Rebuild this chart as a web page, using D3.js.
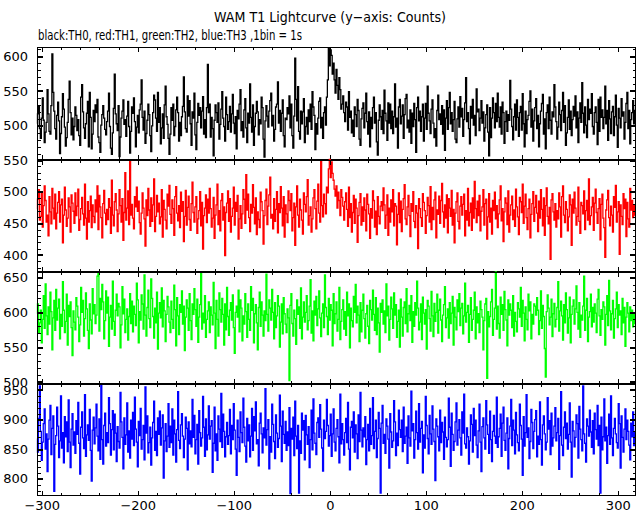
<!DOCTYPE html>
<html><head><meta charset="utf-8">
<script src="https://cdn.jsdelivr.net/npm/d3@7"></script>
<style>body{margin:0;background:#fff}svg{display:block}</style>
</head><body><svg id="c" width="643" height="515"></svg>
<script>
// time of first bin (s); 1 bin = 1 s
const tStart = -305;
const binSize = 1;
// TH0 (black)
const th0 = [
503,517,529,496,482,511,540,508,476,491,505,552,517,492,488,529,603,548,521,496,
481,515,534,507,460,489,513,546,524,498,471,483,505,538,564,519,487,511,480,499,
527,515,493,509,486,472,541,559,520,497,482,503,518,535,470,548,512,467,488,522,
506,530,519,538,484,476,462,501,516,529,511,495,487,506,521,547,499,468,459,490,
525,574,517,503,493,529,456,484,511,521,537,502,509,485,514,535,499,461,492,527,
518,540,506,470,498,515,490,523,531,566,512,494,521,475,489,508,531,516,486,463,
500,519,544,537,511,492,548,505,526,474,497,517,482,530,557,513,502,482,459,488,
526,508,531,486,499,523,541,519,478,505,486,513,528,570,520,496,491,543,514,536,
503,472,520,511,547,487,466,505,532,515,526,497,521,542,488,509,483,526,588,519,
531,484,512,496,457,508,530,519,505,533,481,502,524,549,511,499,478,541,516,495,
506,528,491,517,545,504,489,513,467,522,510,531,552,493,506,484,523,539,497,476,
518,504,560,512,491,530,472,499,518,535,520,487,509,503,541,526,481,455,507,529,
514,498,521,536,547,500,515,478,495,527,531,563,504,522,492,518,537,486,470,511,
509,526,517,543,497,531,486,468,514,597,538,507,556,492,481,521,503,520,539,476,
499,512,488,523,506,531,495,549,527,515,466,503,488,511,535,540,497,512,482,519,
527,501,541,566,612,586,609,601,574,590,566,547,581,558,538,569,552,524,531,543,
519,506,534,527,494,549,512,521,490,508,485,527,516,499,538,522,481,472,510,525,
533,497,518,547,506,488,520,470,512,496,526,541,504,519,477,458,508,530,513,495,
522,489,551,518,507,479,533,504,531,496,521,489,513,560,498,511,468,527,538,503,
514,530,482,516,539,545,497,508,491,523,475,518,499,532,509,462,526,541,507,521,
492,513,531,478,511,532,495,557,518,507,489,524,537,504,483,496,471,522,544,509,
517,502,529,488,523,465,511,536,495,526,548,503,519,492,509,535,481,476,510,527,
498,542,513,525,485,509,533,569,506,519,496,474,528,511,538,501,515,486,553,520,
524,493,511,536,504,520,478,497,516,530,491,457,526,483,511,540,519,497,532,506,
547,512,498,527,488,534,519,475,506,521,492,516,508,565,524,499,480,513,531,494,
537,512,485,519,528,494,546,503,470,521,489,509,515,535,550,498,524,478,507,526,
539,496,515,470,503,521,532,545,488,510,467,519,530,496,541,508,488,520,513,559,
527,506,481,498,534,516,493,522,548,505,529,472,490,512,537,495,521,486,509,528,
514,543,497,520,476,511,533,505,562,518,490,527,501,483,538,509,524,518,546,499,
488,519,527,505,473,538,492,541,512,523,496,512,557,503,522,479,536,510,489,520,
528,486,513,544,501,469,525,511,497,539,514,520,481,505,532,548,496,522,474,509,
519,536,503,522];
// TH1 (red)
const th1 = [
472,488,503,455,461,497,444,478,509,486,452,463,430,492,468,449,505,474,457,496,
441,466,483,500,452,479,488,419,463,507,471,445,458,490,476,436,495,482,469,450,
498,462,477,504,439,456,473,491,465,447,512,458,425,484,452,470,493,443,479,461,
451,487,468,509,440,494,476,459,427,481,502,466,448,472,456,489,475,434,518,463,
446,484,497,471,437,465,503,478,452,489,423,467,530,455,474,501,448,549,463,480,
458,441,492,476,507,469,485,451,433,466,498,474,457,414,487,462,505,471,445,490,
453,479,520,437,461,494,468,482,449,460,503,428,486,472,455,441,496,477,510,464,
450,487,473,431,492,508,466,454,478,443,499,469,484,421,461,502,447,475,493,456,
439,481,515,467,452,476,492,434,457,470,500,446,483,409,462,474,495,451,488,466,
505,473,444,458,491,426,463,479,512,448,470,438,486,497,455,476,399,467,482,501,
453,489,436,461,474,507,447,483,469,494,425,457,478,442,465,503,488,450,527,471,
496,459,437,480,466,511,475,449,490,432,468,456,443,499,484,470,417,462,486,504,
448,477,495,523,458,464,441,489,453,472,500,435,481,467,508,474,446,492,428,479,
465,451,501,486,470,497,438,459,482,415,476,509,463,444,488,471,455,433,498,480,
468,492,519,447,462,476,436,457,490,503,473,441,485,512,466,452,548,478,460,496,
481,465,507,498,536,551,522,547,529,518,504,493,509,474,499,486,462,503,491,477,
455,484,498,472,445,507,459,481,436,467,494,450,488,474,420,462,483,497,447,476,
453,490,471,438,496,480,465,426,473,458,501,486,444,469,432,492,461,449,477,484,
470,506,479,442,463,495,431,474,452,487,468,503,446,481,477,416,464,498,451,485,
437,472,489,511,457,448,476,494,462,429,481,469,500,453,443,478,466,410,489,473,
459,445,497,483,470,434,462,491,478,452,508,440,475,456,487,499,427,471,464,493,
450,486,513,468,444,479,458,495,435,489,474,461,502,447,472,419,466,484,498,453,
441,477,492,463,480,496,430,470,455,505,446,467,482,439,490,458,516,473,451,485,
462,494,438,469,476,503,447,481,488,425,460,497,452,474,433,486,470,499,457,478,
443,465,487,509,454,473,421,468,490,482,448,501,436,463,479,493,456,471,445,504,
476,460,432,491,484,467,512,450,477,496,459,440,473,488,427,464,481,500,453,475,
494,466,437,485,458,503,472,446,490,431,478,506,461,449,475,393,487,497,468,455,
481,444,470,457,498,476,428,492,509,463,451,484,472,438,460,495,479,415,488,466,
499,474,447,461,507,453,434,483,478,465,501,440,470,486,455,520,448,462,476,491,
439,482,504,467,450,473,489,424,480,496,458,443,396,471,487,502,459,446,477,463,
436,492,475,510,452,468,484,401,479,461,448,497,473,488,429,483,457,444,505,471,
486,459,478,463];
// TH2 (green)
const th2 = [
598,612,571,585,603,556,590,624,577,641,595,568,608,583,629,601,546,592,617,574,
633,589,606,619,562,597,580,644,603,571,587,626,553,610,594,615,578,538,602,586,
575,621,609,593,558,582,636,600,617,566,591,628,605,574,548,612,589,569,634,598,
611,584,596,652,657,573,620,604,640,615,562,588,631,599,622,551,593,610,576,645,
587,567,603,626,595,613,608,549,582,637,598,619,571,590,605,560,594,627,584,616,
572,609,597,581,642,618,556,601,589,625,612,576,654,596,566,607,632,591,578,648,
620,594,563,606,585,629,547,599,614,592,635,579,617,602,558,597,623,608,586,571,
616,590,577,639,604,552,621,595,568,611,600,631,583,609,545,593,618,606,574,627,
588,561,612,597,634,604,580,619,557,593,611,657,576,599,585,624,564,590,602,615,
571,608,596,582,643,599,548,617,590,566,628,604,586,620,597,553,612,575,636,594,
567,603,614,589,625,578,541,600,609,593,632,572,618,606,559,595,583,627,601,564,
612,590,574,637,603,620,556,598,611,585,546,607,629,580,615,596,566,602,588,655,
597,573,618,606,589,633,600,562,614,578,595,624,609,550,586,612,569,621,598,583,
571,605,592,502,610,627,584,566,603,591,554,618,597,608,577,635,562,593,615,586,
600,624,575,588,609,647,570,602,559,616,596,623,581,605,631,592,565,599,612,578,
654,607,594,568,620,589,611,603,552,627,584,598,615,573,590,636,561,587,604,618,
576,601,567,629,595,612,549,606,588,579,623,600,640,585,609,596,558,614,572,603,
626,591,563,598,610,580,555,617,604,589,632,597,574,621,568,606,585,543,613,600,
618,583,602,571,641,595,609,560,590,622,605,577,628,596,611,564,587,603,550,619,
593,566,607,615,584,634,572,598,610,588,624,557,601,580,614,596,645,606,575,586,
612,561,622,599,583,604,547,617,609,591,573,630,595,565,613,587,600,626,570,603,
619,589,558,596,611,637,578,592,605,563,614,584,599,623,553,607,593,575,618,601,
627,581,606,613,569,595,642,586,600,610,557,597,621,574,590,603,629,562,608,585,
598,571,616,604,593,546,588,612,620,505,601,579,594,615,633,567,590,606,658,576,
609,584,563,622,597,611,574,630,604,589,552,618,596,612,603,578,624,566,600,587,
572,614,605,593,636,580,617,599,559,608,590,575,626,602,615,562,597,583,612,609,
596,621,603,568,588,631,577,610,594,548,507,601,625,606,582,593,619,565,598,613,
579,590,607,644,573,602,616,595,560,611,585,628,604,570,592,622,556,597,609,618,
583,605,638,600,576,614,564,596,589,609,652,574,603,620,558,593,601,626,579,607,
586,612,599,571,619,633,595,567,604,590,615,608,553,597,624,581,646,602,575,598,
617,563,591,605,629,578,611,596,602,568,620,585,607,551,593,614,599,572,608,588,
603,579,597,584];
// TH3 (blue)
const th3 = [
868,845,902,957,880,831,862,893,918,850,876,812,867,899,924,841,885,906,779,858,
873,921,889,836,864,940,852,878,827,905,871,896,846,933,862,819,884,910,857,879,
843,898,875,929,860,808,887,913,869,851,942,838,874,891,865,917,848,796,882,904,
859,886,926,872,847,901,833,958,866,825,890,911,855,878,861,937,893,840,883,915,
849,909,877,829,888,863,852,946,896,870,817,903,858,874,928,845,881,835,899,867,
912,856,938,884,862,820,897,873,919,850,866,890,832,955,877,906,844,861,887,823,
869,895,931,848,880,839,903,875,914,857,886,908,801,864,893,846,872,927,853,889,
861,918,840,899,876,828,883,947,865,851,891,910,872,836,867,904,885,815,896,859,
881,854,934,870,907,842,866,892,825,915,878,855,869,939,887,838,901,849,874,923,
867,889,898,811,860,921,847,876,831,906,884,863,944,853,909,880,837,871,895,858,
873,917,842,890,866,927,882,850,806,899,870,846,913,878,861,936,887,855,828,902,
864,891,837,872,919,848,905,881,930,859,866,822,894,911,876,844,886,869,952,857,
883,900,817,871,845,926,892,863,834,908,877,853,868,941,889,829,914,875,860,897,
848,879,856,920,775,885,867,904,839,931,872,851,890,776,864,843,911,882,898,832,
907,874,858,888,819,866,916,849,935,877,860,841,895,903,870,925,884,852,813,899,
868,880,934,890,855,873,909,838,876,918,862,847,885,900,871,827,943,859,893,866,
840,878,902,861,929,850,815,887,897,869,913,845,891,876,834,908,863,946,882,854,
886,871,905,824,866,892,847,919,858,873,937,851,880,899,836,868,912,885,776,894,
924,860,875,843,901,889,867,818,910,879,853,864,932,896,839,877,856,916,883,870,
899,846,921,860,872,887,826,906,869,855,948,881,893,835,866,914,878,850,927,862,
885,897,810,874,852,939,890,868,842,907,876,858,923,884,863,797,901,889,871,847,
916,861,895,879,833,904,870,854,866,936,887,821,911,875,848,863,896,928,857,882,
900,869,840,913,877,943,859,852,886,871,825,864,908,892,845,919,873,899,857,836,
881,926,862,812,888,903,869,850,932,891,875,843,914,866,829,880,907,872,860,938,
853,871,885,909,838,894,921,865,848,877,903,817,868,889,934,856,899,882,842,912,
874,861,847,926,890,867,806,905,855,878,942,870,886,834,863,917,895,851,880,900,
915,837,872,858,930,866,823,891,906,876,849,862,937,884,898,841,911,855,869,889,
920,864,878,902,816,873,947,857,839,887,913,868,894,850,875,928,862,803,897,881,
854,870,908,893,835,922,884,866,847,957,876,860,828,901,889,872,916,879,853,898,
842,911,883,867,924,856,890,776,904,849,871,935,864,887,826,873,909,858,940,869,
839,885,902,876,861,852,927,893,818,906,870,845,884,918,866,899,880,857,832,894,
871,913,856,879];

const seriesNames = ["TH0","TH1","TH2","TH3"];
const seriesColors = ["#000000","#ff0000","#00ff00","#0000ff"];
const yDomains = [[451,613],[373,550],[497,658],[771,960]];
const yMajorTicks = [[500,550,600],[400,450,500,550],[500,550,600,650],[800,850,900,950]];
const yMinorStep = 10;
const xDomain = [-305, 319];
const xMajorTicks = [-300,-200,-100,0,100,200,300];
const xMinorStep = 20;
const titleText = "WAM T1 Lightcurve (y\u2212axis: Counts)";
const subtitleText = "black:TH0, red:TH1, green:TH2, blue:TH3 ,1bin = 1s";

const series = [th0, th1, th2, th3];
const svg = d3.select("#c");
const left = 37, right = 636;
const tops = [47, 160, 272, 384], bots = [160, 272, 384, 496];
const FONT = "DejaVu Sans";

const x = d3.scaleLinear().domain(xDomain).range([left, right]);
const xMinor = d3.range(xDomain[0], xDomain[1] + 1).filter(v => v % xMinorStep === 0 && v % 100 !== 0);

svg.append("text").attr("x", 330).attr("y", 22).attr("text-anchor", "middle")
  .attr("font-family", FONT).attr("font-size", 14).attr("textLength", 232)
  .attr("lengthAdjust", "spacingAndGlyphs").text(titleText);
svg.append("text").attr("x", 38).attr("y", 40)
  .attr("font-family", FONT).attr("font-size", 14).attr("textLength", 264)
  .attr("lengthAdjust", "spacingAndGlyphs").text(subtitleText);

series.forEach((vals, p) => {
  const y = d3.scaleLinear().domain(yDomains[p]).range([bots[p], tops[p]]);
  const g = svg.append("g");
  const line = d3.line()
    .x((d, i) => x(tStart + i * binSize))
    .y(d => y(d))
    .curve(d3.curveStep);
  g.append("path").datum(vals).attr("d", line)
    .attr("fill", "none").attr("stroke", seriesColors[p]).attr("stroke-width", 1.3);

  // frame
  const fr = g.append("g").attr("stroke", "#000").attr("shape-rendering", "crispEdges");
  fr.append("line").attr("x1", left).attr("x2", right).attr("y1", tops[p] + 0.5).attr("y2", tops[p] + 0.5);
  fr.append("line").attr("x1", left).attr("x2", right).attr("y1", bots[p] - 0.5).attr("y2", bots[p] - 0.5);
  fr.append("line").attr("x1", left + 0.5).attr("x2", left + 0.5).attr("y1", tops[p]).attr("y2", bots[p]);
  fr.append("line").attr("x1", right - 0.5).attr("x2", right - 0.5).attr("y1", tops[p]).attr("y2", bots[p]);

  const [y0, y1] = yDomains[p];
  const yMinor = d3.range(Math.ceil(y0 / yMinorStep) * yMinorStep, y1 + 0.001, yMinorStep)
    .filter(v => !yMajorTicks[p].includes(v));

  const styleAxis = (sel, w) => {
    sel.select(".domain").remove();
    sel.selectAll(".tick line").attr("stroke", "#000").attr("stroke-width", w).attr("shape-rendering", "crispEdges");
    sel.selectAll("text").attr("font-family", FONT).attr("font-size", 13).attr("fill", "#000");
  };
  g.append("g").attr("transform", `translate(${left},0)`)
    .call(d3.axisLeft(y).tickValues(yMajorTicks[p]).tickSize(-6).tickPadding(9))
    .call(s => styleAxis(s, 2));
  g.append("g").attr("transform", `translate(${left},0)`)
    .call(d3.axisLeft(y).tickValues(yMinor).tickSize(-3.5).tickFormat(""))
    .call(s => styleAxis(s, 1));
  g.append("g").attr("transform", `translate(${right},0)`)
    .call(d3.axisRight(y).tickValues(yMajorTicks[p]).tickSize(-6).tickFormat(""))
    .call(s => styleAxis(s, 2));
  g.append("g").attr("transform", `translate(${right},0)`)
    .call(d3.axisRight(y).tickValues(yMinor).tickSize(-3.5).tickFormat(""))
    .call(s => styleAxis(s, 1));
  const isLast = p === series.length - 1;
  g.append("g").attr("transform", `translate(0,${bots[p]})`)
    .call(d3.axisBottom(x).tickValues(xMajorTicks).tickSize(-5).tickPadding(5)
      .tickFormat(isLast ? d3.format("d") : ""))
    .call(s => styleAxis(s, 1));
  g.append("g").attr("transform", `translate(0,${bots[p]})`)
    .call(d3.axisBottom(x).tickValues(xMinor).tickSize(-3).tickFormat(""))
    .call(s => styleAxis(s, 1));
  g.append("g").attr("transform", `translate(0,${tops[p]})`)
    .call(d3.axisTop(x).tickValues(xMajorTicks).tickSize(-5).tickFormat(""))
    .call(s => styleAxis(s, 1));
  g.append("g").attr("transform", `translate(0,${tops[p]})`)
    .call(d3.axisTop(x).tickValues(xMinor).tickSize(-3).tickFormat(""))
    .call(s => styleAxis(s, 1));
});
</script></body></html>
